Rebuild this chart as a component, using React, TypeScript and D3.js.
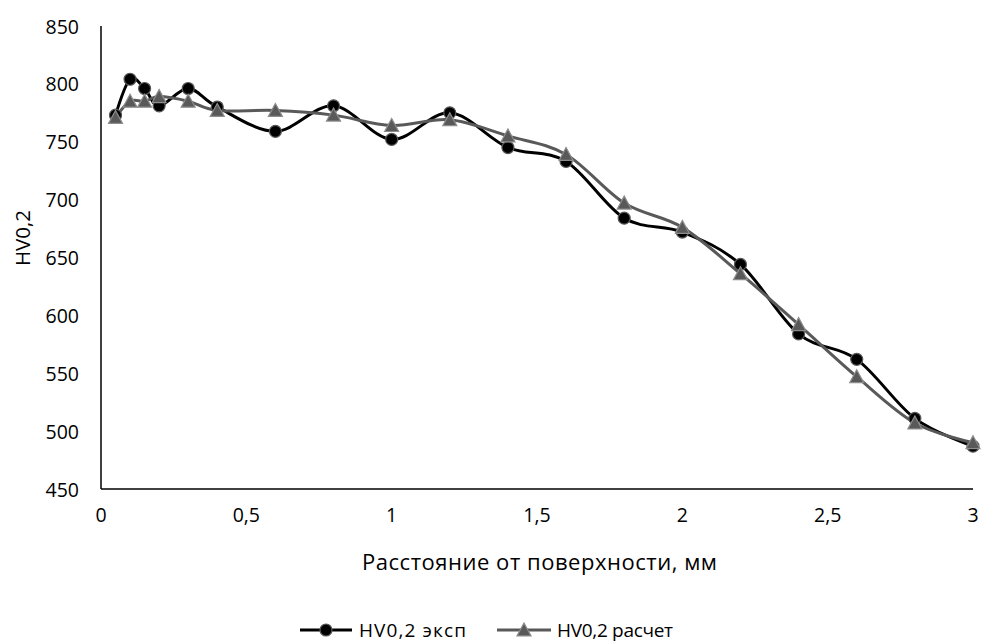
import React from "react";
import * as d3 from "d3";

const xValues = [0.05, 0.1, 0.15, 0.2, 0.3, 0.4, 0.6, 0.8, 1.0, 1.2, 1.4, 1.6, 1.8, 2.0, 2.2, 2.4, 2.6, 2.8, 3.0];
const expValues = [773, 804, 796, 781, 796, 780, 759, 781, 752, 775, 745, 733, 684, 672, 644, 584, 562, 511, 487];
const calcValues = [771, 785, 785, 789, 785, 777, 777, 773, 764, 769, 755, 739, 697, 676, 636, 592, 547, 507, 490];
const xTicks = [0, 0.5, 1, 1.5, 2, 2.5, 3];
const yTicks = [450, 500, 550, 600, 650, 700, 750, 800, 850];
const seriesNames = ["HV0,2 эксп", "HV0,2 расчет"];
const xTitle = "Расстояние от поверхности, мм";
const yTitle = "HV0,2";

const W = 982;
const H = 642;
const FONT = "'Open Sans', sans-serif";

export default function App() {
  const x = d3.scaleLinear().domain([0, 3]).range([101, 973]);
  const y = d3.scaleLinear().domain([450, 850]).range([489, 26]);
  const fmt = (v: number) => String(v).replace(".", ",");

  const line = d3
    .line<[number, number]>()
    .x((d) => x(d[0]))
    .y((d) => y(d[1]))
    .curve(d3.curveCatmullRom.alpha(0));

  const expPts: [number, number][] = xValues.map((v, i) => [v, expValues[i]]);
  const calcPts: [number, number][] = xValues.map((v, i) => [v, calcValues[i]]);

  const tri = (cx: number, cy: number, s = 7) =>
    `M${cx},${cy - s} L${cx + s},${cy + s * 0.85} L${cx - s},${cy + s * 0.85} Z`;

  return (
    <svg
      width={W}
      height={H}
      style={{ position: "absolute", left: 0, top: 0, background: "#fff" }}
      fontFamily={FONT}
    >
      <rect x={0} y={0} width={W} height={H} fill="#fff" />
      {/* axes */}
      <line x1={101} y1={y(850)} x2={101} y2={489} stroke="#000" strokeWidth={1.5} />
      <line x1={101} y1={489} x2={973} y2={489} stroke="#000" strokeWidth={1.5} />
      {yTicks.map((t) => (
        <text key={t} x={79} y={y(t)} textAnchor="end" dominantBaseline="central" fontSize={19.5} fill="#000">
          {t}
        </text>
      ))}
      {xTicks.map((t) => (
        <text key={t} x={x(t)} y={514} textAnchor="middle" dominantBaseline="central" fontSize={19.5} fill="#000">
          {fmt(t)}
        </text>
      ))}
      <text
        x={362}
        y={561}
        dominantBaseline="central"
        fontSize={22}
        fill="#000"
        textLength={355}
        lengthAdjust="spacing"
      >
        {xTitle}
      </text>
      <text
        transform={`translate(22,238) rotate(-90)`}
        textAnchor="middle"
        dominantBaseline="central"
        fontSize={20.5}
        fill="#000"
      >
        {yTitle}
      </text>

      {/* series */}
      <path d={line(expPts) || ""} fill="none" stroke="#000" strokeWidth={3} />
      <path d={line(calcPts) || ""} fill="none" stroke="#595959" strokeWidth={3} />
      {expPts.map((d, i) => (
        <circle key={"e" + i} cx={x(d[0])} cy={y(d[1])} r={6} fill="#000" stroke="#595959" strokeWidth={1.2} />
      ))}
      {calcPts.map((d, i) => (
        <path key={"c" + i} d={tri(x(d[0]), y(d[1]))} fill="#595959" stroke="#8c8c8c" strokeWidth={1.2} />
      ))}

      {/* legend */}
      <line x1={300} y1={630} x2={352} y2={630} stroke="#000" strokeWidth={3} />
      <circle cx={326} cy={630} r={6} fill="#000" stroke="#595959" strokeWidth={1.2} />
      <text x={359} y={630} dominantBaseline="central" fontSize={19} fill="#000" textLength={107} lengthAdjust="spacing">
        {seriesNames[0]}
      </text>
      <line x1={497} y1={630} x2={551} y2={630} stroke="#595959" strokeWidth={3} />
      <path d={tri(524, 630)} fill="#595959" stroke="#8c8c8c" strokeWidth={1.2} />
      <text x={557} y={630} dominantBaseline="central" fontSize={19} fill="#000" textLength={116} lengthAdjust="spacing">
        {seriesNames[1]}
      </text>
    </svg>
  );
}
